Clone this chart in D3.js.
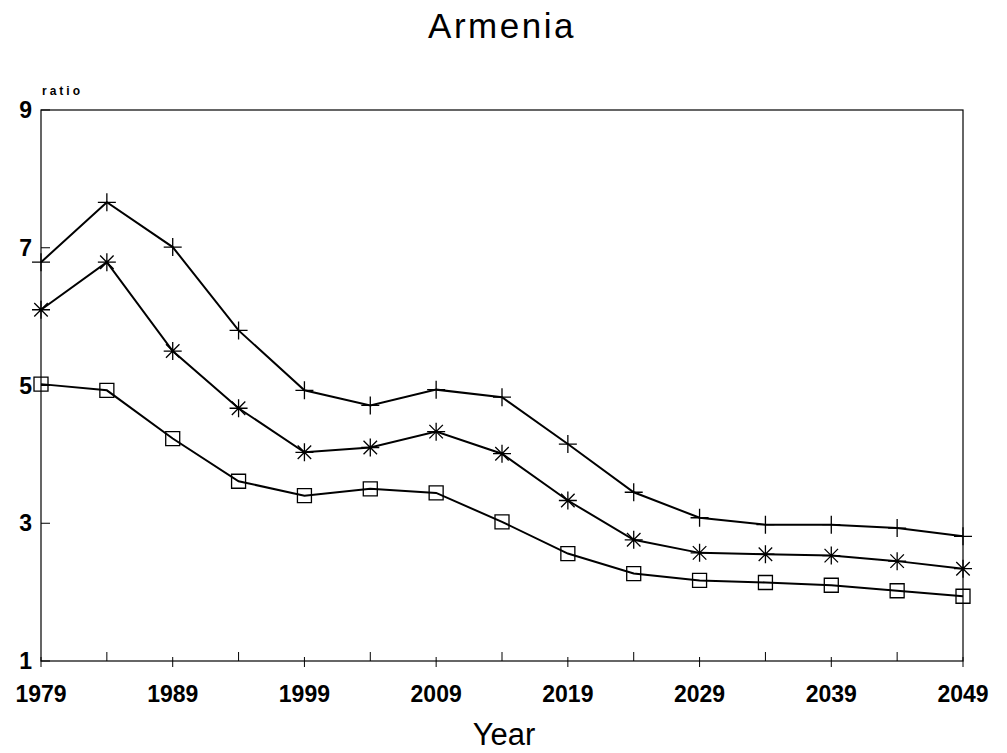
<!DOCTYPE html>
<html>
<head>
	<meta charset="utf-8">
	<title>Armenia</title>
	<style>
		body {
			margin: 0;
			background: #fff;
			font-family: "Liberation Sans", Arial, Helvetica, sans-serif;
		}
		.axis-label { font-weight: bold; font-size: 23px; fill: #000; }
		.line { fill: none; stroke: #000; stroke-width: 2; }
		.marker { fill: none; stroke: #000; stroke-width: 1.3; }
	</style>
</head>
<body>
	<div id="chart"></div>
	<script src="https://cdnjs.cloudflare.com/ajax/libs/d3/7.8.5/d3.min.js"></script>
	<script>
	// Data
	var years = [1979, 1984, 1989, 1994, 1999, 2004, 2009, 2014, 2019, 2024, 2029, 2034, 2039, 2044, 2049]
	var plusSeries   = [6.79, 7.66, 7.01, 5.80, 4.93, 4.71, 4.94, 4.83, 4.15, 3.45, 3.08, 2.98, 2.98, 2.93, 2.81]
	var starSeries   = [6.10, 6.79, 5.50, 4.67, 4.03, 4.10, 4.33, 4.01, 3.33, 2.76, 2.57, 2.55, 2.53, 2.45, 2.34]
	var squareSeries = [5.02, 4.93, 4.23, 3.61, 3.40, 3.50, 3.44, 3.02, 2.56, 2.27, 2.17, 2.14, 2.10, 2.02, 1.94]
	var xTickLabels = [1979, 1989, 1999, 2009, 2019, 2029, 2039, 2049]
	var yTickLabels = [1, 3, 5, 7, 9]

	// Layout
	var width = 1007, height = 753
	var plotLeft = 41, plotRight = 963, plotTop = 110, plotBottom = 661

	var svg = d3.select("#chart").append("svg")
		.attr("width", width)
		.attr("height", height)

	var x = d3.scaleLinear().domain([1979, 2049]).range([plotLeft, plotRight])
	var y = d3.scaleLinear().domain([1, 9]).range([plotBottom, plotTop])

	// Frame
	svg.append("rect")
		.attr("x", plotLeft).attr("y", plotTop)
		.attr("width", plotRight - plotLeft).attr("height", plotBottom - plotTop)
		.attr("fill", "none").attr("stroke", "#000").attr("stroke-width", 1.2)

	// X ticks: every 5 years pointing up, labelled years also a little down
	var isLabelled = function(d){ return xTickLabels.indexOf(d) >= 0 }

	svg.selectAll(".xtick").data(years).enter().append("line")
		.attr("x1", function(d){ return x(d) })
		.attr("x2", function(d){ return x(d) })
		.attr("y1", function(d){ return isLabelled(d) ? plotBottom + 6 : plotBottom })
		.attr("y2", function(d){ return isLabelled(d) ? plotBottom - 4 : plotBottom - 9 })
		.attr("stroke", "#000").attr("stroke-width", 1)

	svg.selectAll(".xlab").data(xTickLabels).enter().append("text")
		.attr("class", "axis-label")
		.attr("x", function(d){ return x(d) })
		.attr("y", 702)
		.attr("text-anchor", "middle")
		.text(function(d){ return d })

	// Y ticks
	svg.selectAll(".ytick").data(yTickLabels).enter().append("line")
		.attr("x1", plotLeft).attr("x2", plotLeft + 9)
		.attr("y1", function(d){ return y(d) })
		.attr("y2", function(d){ return y(d) })
		.attr("stroke", "#000").attr("stroke-width", 1)

	svg.selectAll(".ylab").data(yTickLabels).enter().append("text")
		.attr("class", "axis-label")
		.attr("x", 32)
		.attr("y", function(d){ return y(d) + 8 })
		.attr("text-anchor", "end")
		.text(function(d){ return d })

	// Titles
	svg.append("text")
		.attr("x", 502).attr("y", 38)
		.attr("text-anchor", "middle")
		.style("font-size", "35px")
		.style("letter-spacing", "2.5px")
		.text("Armenia")

	svg.append("text")
		.attr("x", 42).attr("y", 95)
		.style("font-size", "12px").style("font-weight", "bold")
		.style("letter-spacing", "3px")
		.text("ratio")

	svg.append("text")
		.attr("x", 504).attr("y", 745)
		.attr("text-anchor", "middle")
		.style("font-size", "31px")
		.text("Year")

	// Lines
	var line = d3.line()
		.x(function(d, i){ return x(years[i]) })
		.y(function(d){ return y(d) })

	var allSeries = [
		{ values: plusSeries, marker: "plus" },
		{ values: starSeries, marker: "star" },
		{ values: squareSeries, marker: "square" }
	]

	allSeries.forEach(function(s){
		svg.append("path").attr("class", "line").attr("d", line(s.values))
	})

	// Markers
	var markerPath = function(type){
		var r = 9
		if(type == "plus") return "M" + -r + ",0H" + r + "M0," + -r + "V" + r
		if(type == "star") {
			var d = r * 0.75
			return "M" + -r + ",0H" + r + "M0," + -r + "V" + r +
				"M" + -d + "," + -d + "L" + d + "," + d +
				"M" + -d + "," + d + "L" + d + "," + -d
		}
		return "M-7,-7H7V7H-7Z"
	}

	allSeries.forEach(function(s){
		svg.selectAll(null).data(s.values).enter().append("path")
			.attr("class", "marker")
			.attr("transform", function(d, i){ return "translate(" + x(years[i]) + "," + y(d) + ")" })
			.attr("d", markerPath(s.marker))
	})
	</script>
</body>
</html>
